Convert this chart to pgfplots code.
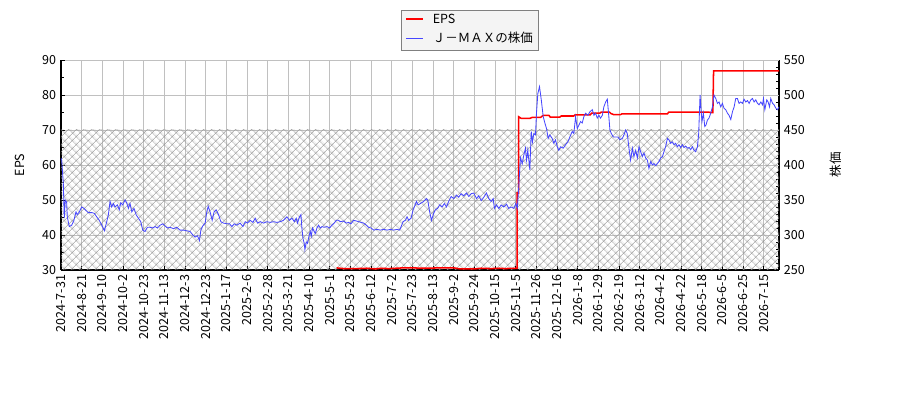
\documentclass[border=0pt]{standalone}
\usepackage{fontspec}
\setmainfont{Noto Sans CJK JP}
\usepackage{pgfplots}
\pgfplotsset{compat=1.18}
\usetikzlibrary{patterns.meta}

\definecolor{epsred}{RGB}{255,0,0}
\definecolor{priceblue}{RGB}{70,70,255}
\definecolor{gridgray}{RGB}{192,192,192}
\definecolor{hatchgray}{RGB}{150,150,150}
\definecolor{legfill}{RGB}{244,244,244}

\pgfplotsset{
  base/.style={
    at={(43.9pt,93.6pt)}, anchor=south west,
    scale only axis, width=517pt, height=151.2pt,
    xmin=0, xmax=521,
    tick label style={font=\fontsize{9}{10}\selectfont},
    label style={font=\fontsize{9}{10}\selectfont},
    /pgf/number format/assume math mode=true,
    axis line style={black, line width=0.8pt},
    major tick length=3pt, minor tick length=2pt,
    every tick/.style={black, line width=0.7pt},
  },
}

\begin{document}
\begin{tikzpicture}
\useasboundingbox (0,0) rectangle (648pt,288pt);

% right axis: share price scale
\begin{axis}[base,
  axis x line=none, axis y line*=right,
  ymin=250, ymax=550, ytick={250,300,...,550}, minor y tick num=4,
  ylabel={株価},
  ylabel style={at={(axis description cs:1.079,0.5)}, anchor=center},
]
\end{axis}

% left axis: EPS
\begin{axis}[base, name=epsax,
  axis x line*=bottom, axis y line*=left,
  ymin=30, ymax=90, ytick={30,40,...,90}, minor y tick num=1,
  xtick={0,15,...,510},
  xticklabels={2024-7-31,2024-8-21,2024-9-10,2024-10-2,2024-10-23,2024-11-13,
    2024-12-3,2024-12-23,2025-1-17,2025-2-6,2025-2-28,2025-3-21,2025-4-10,
    2025-5-1,2025-5-23,2025-6-12,2025-7-2,2025-7-23,2025-8-13,2025-9-2,
    2025-9-24,2025-10-15,2025-11-5,2025-11-26,2025-12-16,2026-1-8,2026-1-29,
    2026-2-19,2026-3-12,2026-4-2,2026-4-22,2026-5-18,2026-6-5,2026-6-25,2026-7-15},
  xticklabel style={rotate=90, anchor=east},
  grid=major, grid style={gridgray, line width=0.7pt},
  ylabel={EPS},
  ylabel style={at={(axis description cs:-0.057,0.5)}, anchor=center},
]
\addplot[draw=none, forget plot, pattern={Hatch[angle=45,distance=4pt,line width=0.4pt]},
  pattern color=hatchgray] coordinates {(0,30)(0,70)(521,70)(521,30)} -- cycle;

\addplot[draw=epsred, line width=1.1pt] coordinates {
(200,30.6)(205,30.4)(215,30.4)(222,30.5)(228,30.3)(232,30.5)(238,30.4)
(248,30.6)(256,30.6)(262,30.5)(275,30.6)(285,30.6)(290,30.3)(300,30.3)
(305,30.5)(312,30.4)(318,30.5)(322,30.4)(330,30.5)(331,30.5)(331,52)
(332,52)(332,73.8)(334,73.3)(340,73.3)(342,73.6)(348,73.6)(350,74.2)
(354,74.2)(355,73.7)(362,73.7)(363,74.0)(372,74.0)(373,74.3)(384,74.3)
(385,74.8)(391,74.8)(392,75.1)(398,75.1)(399,74.7)(401,74.4)(406,74.4)
(407,74.6)(440,74.6)(441,75.1)(470,75.1)(471,75.0)(473,75.0)(473.5,86.9)
(521,86.9)};
\end{axis}

% price line, on the right-hand scale, drawn on top
\begin{axis}[base,
  axis x line=none, axis y line=none,
  ymin=250, ymax=550,
]
\addplot[draw=priceblue, line width=0.6pt] coordinates {
(0,410)(0.5,407)(1.7,374)(2.4,324)(3.1,350)(4.1,347)(4.6,326)(6.0,312)(7.8,314)
(9.4,321)(10.9,333)(11.8,329)(13.3,333)(15.0,340)(16.7,338)(18.2,335)(19.8,332)
(22.3,332)(24.2,331)(25.9,326)(27.8,321)(29.6,314)(31.5,306)(33.2,319)(34.4,329)
(35.6,348)(36.8,340)(38.0,345)(39.2,340)(40.9,343)(42.3,336)(43.4,346)(44.8,343)
(46.5,350)(47.7,346)(48.9,338)(50.1,345)(51.4,333)(53.0,338)(54.5,329)(56.2,324)
(57.9,319)(59.3,307)(61.0,305)(62.7,311)(64.7,311)(66.6,310)(68.3,312)(70.0,310)
(71.9,314)(73.9,316)(75.5,313)(77.2,310)(79.2,311)(81.6,309)(84.0,311)(86.4,307)
(88.8,307)(91.3,306)(93.7,305)(95.7,300)(97.3,297)(99.0,299)(100.5,292)(101.5,307)
(102.9,313)(104.6,317)(105.8,333)(106.8,341)(108.2,333)(109.7,321)(111.1,333)
(112.6,336)(114.3,329)(116.0,319)(117.9,317)(120.4,316)(122.3,316)(124.0,312)
(125.7,316)(127.6,314)(130.0,317)(132.0,312)(133.7,319)(135.3,317)(137.3,321)
(139.3,318)(140.9,324)(142.6,317)(144.6,319)(147.0,317)(149.4,319)(151.8,318)
(154.2,319)(156.7,318)(159.1,319)(161.5,321)(163.9,326)(165.8,321)(167.6,324)
(169.3,319)(170.7,324)(171.6,317)(173.1,326)(174.1,329)(174.8,310)(175.6,295)
(176.5,288)(177.0,279)(178.0,290)(178.9,288)(179.9,298)(180.9,305)(181.6,298)
(182.5,310)(183.3,307)(184.5,302)(185.7,310)(186.9,314)(188.1,310)(189.4,312)
(191.0,311)(193.0,312)(194.9,310)(196.6,314)(198.3,317)(199.8,321)(201.4,321)
(202.7,319)(205.1,320)(207.0,317)(208.7,318)(210.4,316)(212.3,321)(214.3,320)
(216.0,319)(217.7,318)(219.6,317)(221.6,314)(223.2,311)(225.0,310)(226.9,307)
(229.3,308)(231.7,307)(234.1,308)(236.6,307)(239.0,308)(241.4,307)(243.9,308)
(245.7,307)(246.8,312)(248.2,319)(249.9,321)(251.1,326)(252.3,321)(254.0,324)
(255.5,336)(256.4,340)(257.9,348)(259.1,343)(260.8,345)(263.2,348)(265.1,352)
(266.1,350)(267.5,333)(268.8,321)(270.4,331)(271.7,336)(273.3,338)(274.8,343)
(276.5,340)(278.2,345)(279.7,340)(281.3,348)(283.1,355)(285.0,352)(286.9,357)
(288.6,354)(290.3,359)(292.2,356)(294.2,360)(295.9,355)(297.6,359)(299.5,360)
(301.5,352)(303.1,356)(304.9,349)(306.8,354)(308.7,360)(310.4,352)(312.1,348)
(313.6,352)(314.5,338)(316.0,343)(317.7,338)(319.4,343)(321.3,340)(323.3,344)
(324.9,338)(326.7,340)(328.6,338)(330.0,345)(331.1,338)(332.0,364)(332.7,388)
(333.4,410)(334.7,402)(335.8,414)(337.0,424)(337.8,407)(338.7,421)(340.2,393)
(341.2,448)(342.1,433)(343.1,445)(344.3,443)(345.0,474)(346.0,502)(347.2,512)
(348.5,493)(349.9,469)(351.1,460)(352.3,452)(353.5,438)(354.7,443)(356.4,438)
(357.6,431)(358.8,436)(360.1,426)(361.2,421)(362.5,426)(364.4,424)(366.1,429)
(367.8,433)(369.2,440)(371.0,448)(372.1,445)(373.4,469)(374.6,452)(375.8,457)
(377.0,462)(378.2,460)(379.4,469)(380.6,474)(382.3,471)(383.8,476)(385.5,479)
(386.7,471)(387.9,474)(389.1,467)(390.3,471)(391.5,467)(392.8,471)(393.9,483)
(395.2,490)(396.4,494)(397.3,474)(398.3,450)(399.3,445)(400.8,440)(402.4,440)
(404.1,440)(405.5,436)(407.3,438)(408.5,443)(409.7,450)(410.9,445)(412.1,424)
(413.3,407)(414.6,424)(415.7,412)(417.0,421)(418.2,410)(419.4,426)(420.6,419)
(421.8,412)(423.0,417)(424.2,410)(425.5,407)(426.6,395)(427.9,405)(429.1,400)
(430.2,402)(431.5,399)(432.7,402)(433.9,405)(435.1,410)(436.4,412)(437.5,419)
(438.7,426)(440.0,438)(441.1,436)(442.4,431)(443.6,433)(444.8,429)(446.0,431)
(447.2,426)(448.4,429)(449.6,425)(450.9,429)(452.0,425)(453.3,427)(454.5,424)
(455.7,425)(456.9,422)(458.1,426)(459.3,421)(460.5,419)(461.8,426)(462.7,445)
(463.7,500)(464.4,479)(465.1,462)(466.1,474)(467.1,455)(468.0,457)(469.0,464)
(470.2,467)(471.4,474)(472.7,483)(473.8,500)(475.1,495)(476.3,488)(477.5,490)
(478.7,483)(479.9,488)(481.1,481)(482.3,479)(483.6,474)(484.7,471)(486.0,465)
(487.2,476)(488.4,483)(489.6,495)(490.8,495)(492.0,488)(493.2,490)(494.5,488)
(495.6,494)(496.9,490)(498.1,492)(499.3,488)(500.5,493)(501.7,495)(502.9,490)
(504.1,493)(505.4,488)(506.5,486)(507.8,490)(509.0,486)(509.7,495)(510.7,479)
(512.1,493)(513.1,490)(514.1,483)(515.0,495)(516.3,488)(517.4,486)(518.7,481)
(519.8,479)(521.0,483)};
\end{axis}

% legend box
\node[anchor=north, draw=gray, fill=legfill, inner xsep=3.6pt, inner ysep=2pt,
  font=\fontsize{9}{11}\selectfont]
  at ([xshift=294.2pt,yshift=36pt]epsax.north west) {%
  \begin{tabular}{@{}l@{\hspace{7pt}}l@{}}
  \textcolor{epsred}{\rule[0.3em]{12pt}{1.1pt}} & EPS\\[2.7pt]
  \textcolor{priceblue}{\rule[0.3em]{12pt}{0.9pt}} & Ｊ－ＭＡＸの株価
  \end{tabular}};
\end{tikzpicture}
\end{document}
